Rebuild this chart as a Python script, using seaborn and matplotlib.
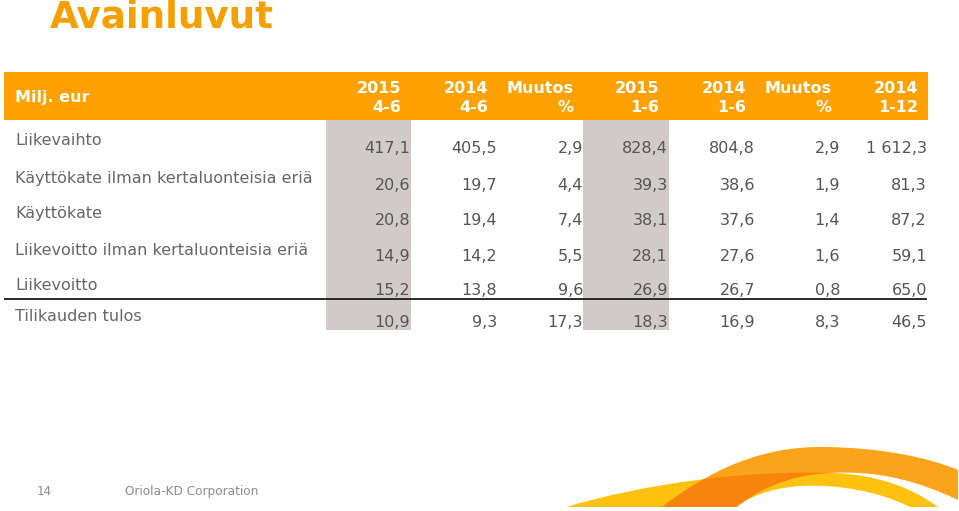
import matplotlib
matplotlib.use("Agg")
import matplotlib.pyplot as plt
from matplotlib.path import Path
from matplotlib.patches import PathPatch, Rectangle
import seaborn as sns
import pandas as pd


title = "Avainluvut"
unit_label = "Milj. eur"

row_labels = [
    "Liikevaihto",
    "Käyttökate ilman kertaluonteisia eriä",
    "Käyttökate",
    "Liikevoitto ilman kertaluonteisia eriä",
    "Liikevoitto",
    "Tilikauden tulos",
]

col_top = ["2015", "2014", "Muutos", "2015", "2014", "Muutos", "2014"]
col_bottom = ["4-6", "4-6", "%", "1-6", "1-6", "%", "1-12"]

q2_2015 = [417.1, 20.6, 20.8, 14.9, 15.2, 10.9]
q2_2014 = [405.5, 19.7, 19.4, 14.2, 13.8, 9.3]
q2_change = [2.9, 4.4, 7.4, 5.5, 9.6, 17.3]
h1_2015 = [828.4, 39.3, 38.1, 28.1, 26.9, 18.3]
h1_2014 = [804.8, 38.6, 37.6, 27.6, 26.7, 16.9]
h1_change = [2.9, 1.9, 1.4, 1.6, 0.8, 8.3]
fy_2014 = [1612.3, 81.3, 87.2, 59.1, 65.0, 46.5]

page_no = "14"
company = "Oriola-KD Corporation"

df = pd.DataFrame(
    {0: q2_2015, 1: q2_2014, 2: q2_change, 3: h1_2015, 4: h1_2014, 5: h1_change, 6: fy_2014},
    index=row_labels,
)


def fi(v):
    # finnish number format: space thousands, comma decimal
    return f"{v:,.1f}".replace(",", " ").replace(".", ",")


sns.set_theme(style="white")
plt.rcParams["font.family"] = ["DejaVu Sans"]

ORANGE = "#FFA100"
GREY_TXT = "#666666"
DATA_TXT = "#555555"
SHADE = "#D0CBC9"

fig = plt.figure(figsize=(9.59, 5.11), dpi=100)
ax = fig.add_axes([0, 0, 1, 1])
ax.set_xlim(0, 959)
ax.set_ylim(511, 0)
ax.axis("off")

# layout (pixels)
col_right = [410, 497, 583, 668, 755, 840, 927]
row_base = [153, 190, 225, 261, 295, 327]
label_base = [145, 183, 218, 255, 290, 321]
shade_span = {0: (326, 411), 3: (583, 669)}

ax.text(50, 28, title, color="#F5A000", fontsize=26.8, fontweight="bold", va="baseline")

# header band
ax.add_patch(Rectangle((4, 72), 924, 48, color=ORANGE, lw=0))
ax.text(15, 102, unit_label, color="white", fontsize=11.5, fontweight="bold", va="baseline")
for j in range(len(col_top)):
    xr = col_right[j] - 9
    ax.text(xr, 93, col_top[j], color="white", fontsize=11.5, fontweight="bold", ha="right", va="baseline")
    ax.text(xr, 112, col_bottom[j], color="white", fontsize=11.5, fontweight="bold", ha="right", va="baseline")

# shaded columns
for j, (x0, x1) in shade_span.items():
    ax.add_patch(Rectangle((x0, 120), x1 - x0, 210, color=SHADE, lw=0))

# rows
for i, lab in enumerate(df.index):
    ax.text(15, label_base[i], lab, color=GREY_TXT, fontsize=11.5, va="baseline")
    for j in df.columns:
        ax.text(col_right[j], row_base[i], fi(df.loc[lab, j]), color=DATA_TXT,
                fontsize=11.5, ha="right", va="baseline")

ax.plot([4, 927], [299, 299], color="#1a1a1a", lw=1.3, solid_capstyle="butt")

# footer
ax.text(37, 495, page_no, color="#8C8C8C", fontsize=8.5, va="baseline")
ax.text(125, 495, company, color="#8C8C8C", fontsize=8.7, va="baseline")

# decorative swoosh
M, C, L, Z = Path.MOVETO, Path.CURVE4, Path.LINETO, Path.CLOSEPOLY
yellow_path = Path(
    [(566, 507), (640, 485), (740, 470), (830, 473), (880, 474), (915, 490), (938, 507),
     (910, 507), (880, 492), (840, 484), (800, 486), (770, 488), (750, 497), (735, 507),
     (566, 507)],
    [M, C, C, C, C, C, C, L, C, C, C, C, C, C, Z],
)
orange_path = Path(
    [(662, 507), (710, 470), (760, 447), (820, 447), (880, 447), (930, 458), (958, 470),
     (958, 500), (920, 482), (880, 470), (830, 473), (785, 475), (755, 492), (737, 507),
     (662, 507)],
    [M, C, C, C, C, C, C, L, C, C, C, C, C, C, Z],
)
ax.add_patch(PathPatch(yellow_path, fc="#FFC20E", ec="none"))
orange = PathPatch(orange_path, fc="#FBA31A", ec="none")
ax.add_patch(orange)
overlap = PathPatch(yellow_path, fc="#F7850D", ec="none")
ax.add_patch(overlap)
overlap.set_clip_path(orange)

fig.savefig("out.png", dpi=100)
